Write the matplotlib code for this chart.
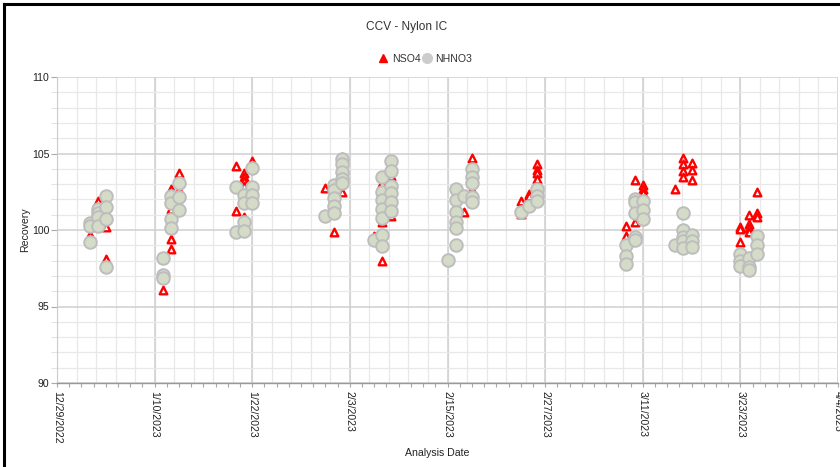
import matplotlib
matplotlib.use("Agg")
import matplotlib.pyplot as plt
import matplotlib.dates as mdates
from matplotlib.lines import Line2D
import datetime as dt

plt.rcParams['font.family'] = ['Liberation Sans', 'DejaVu Sans']

title = "CCV - Nylon IC"
series_names = ["NSO4", "NHNO3"]
x_label = "Analysis Date"
y_label = "Recovery"

nso4_dates = (["2023-01-02", "2023-01-03", "2023-01-04", "2023-01-04",
               "2023-01-11", "2023-01-12", "2023-01-12", "2023-01-12", "2023-01-12",
               "2023-01-13", "2023-01-13",
               "2023-01-20", "2023-01-20",
               "2023-01-21", "2023-01-21", "2023-01-21", "2023-01-21", "2023-01-21",
               "2023-01-22", "2023-01-22",
               "2023-01-31", "2023-02-01", "2023-02-02", "2023-02-02",
               "2023-02-06", "2023-02-07", "2023-02-07", "2023-02-07",
               "2023-02-08", "2023-02-08",
               "2023-02-15", "2023-02-16", "2023-02-17", "2023-02-18", "2023-02-18",
               "2023-02-24", "2023-02-24", "2023-02-25", "2023-02-25",
               "2023-02-26", "2023-02-26", "2023-02-26", "2023-02-26",
               "2023-03-09", "2023-03-09", "2023-03-10", "2023-03-10",
               "2023-03-11", "2023-03-11", "2023-03-11",
               "2023-03-15", "2023-03-16", "2023-03-16", "2023-03-16", "2023-03-16",
               "2023-03-17", "2023-03-17", "2023-03-17",
               "2023-03-23", "2023-03-23", "2023-03-23",
               "2023-03-24", "2023-03-24", "2023-03-24", "2023-03-24",
               "2023-03-25", "2023-03-25", "2023-03-25"])
nso4_values = [99.7, 101.9, 100.2, 98.1,
               96.05, 102.7, 101.4, 99.4, 98.75,
               103.7, 102.6,
               104.2, 101.25,
               103.75, 103.45, 103.2, 102.9, 100.85,
               104.5, 102.9,
               102.75, 99.85, 104.8, 102.5,
               99.6, 103.1, 100.5, 97.95,
               103.5, 100.9,
               98.1, 101.6, 101.15, 104.7, 102.6,
               101.9, 101.05, 102.35, 102.2,
               104.3, 103.95, 103.7, 103.35,
               100.25, 99.6, 103.25, 100.55,
               102.95, 102.65, 102.4,
               102.7, 104.7, 104.3, 103.85, 103.45,
               104.35, 103.95, 103.25,
               100.2, 100.05, 99.2,
               101.0, 100.4, 100.15, 99.85,
               102.5, 101.1, 100.85]

nhno3_dates = (["2023-01-02"] * 3 + ["2023-01-03"] * 4 + ["2023-01-04"] * 4 +
               ["2023-01-11"] * 3 + ["2023-01-12"] * 4 + ["2023-01-13"] * 3 +
               ["2023-01-20"] * 2 + ["2023-01-21"] * 4 + ["2023-01-22"] * 4 +
               ["2023-01-31"] * 1 + ["2023-02-01"] * 5 + ["2023-02-02"] * 5 +
               ["2023-02-06"] * 1 + ["2023-02-07"] * 7 + ["2023-02-08"] * 6 +
               ["2023-02-15"] * 1 + ["2023-02-16"] * 6 + ["2023-02-17"] * 1 +
               ["2023-02-18"] * 5 +
               ["2023-02-24"] * 1 + ["2023-02-25"] * 1 + ["2023-02-26"] * 3 +
               ["2023-03-09"] * 3 + ["2023-03-10"] * 5 + ["2023-03-11"] * 3 +
               ["2023-03-15"] * 1 + ["2023-03-16"] * 5 + ["2023-03-17"] * 3 +
               ["2023-03-23"] * 3 + ["2023-03-24"] * 3 + ["2023-03-25"] * 3)
nhno3_values = [100.45, 100.25, 99.2,
                101.4, 101.1, 100.85, 100.25,
                102.2, 101.5, 100.7, 97.55,
                98.15, 97.05, 96.85,
                102.2, 101.75, 100.7, 100.1,
                103.05, 102.15, 101.3,
                102.8, 99.85,
                102.3, 101.75, 100.5, 99.95,
                104.05, 102.8, 102.3, 101.75,
                100.9,
                102.95, 102.6, 102.1, 101.6, 101.1,
                104.65, 104.3, 103.8, 103.35, 103.05,
                99.35,
                103.45, 102.5, 101.95, 101.35, 100.8, 99.7, 98.95,
                104.5, 103.85, 102.9, 102.4, 101.8, 101.25,
                98.05,
                102.7, 101.95, 101.15, 100.55, 100.15, 99.0,
                102.2,
                104.0, 103.45, 103.05, 102.15, 101.8,
                101.2, 101.6, 102.65, 102.2, 101.9,
                99.0, 98.3, 97.8,
                102.05, 101.85, 101.1, 99.55, 99.35,
                101.9, 101.3, 100.75,
                99.05,
                101.1, 100.0, 99.55, 99.25, 98.85,
                99.65, 99.25, 98.9,
                98.4, 97.95, 97.65,
                98.2, 97.55, 97.4,
                99.6, 99.0, 98.45]

x_start = "2022-12-29"
x_end = "2023-04-04"
y_min, y_max = 90, 110


def to_num(s):
    return mdates.date2num(dt.datetime.strptime(s, "%Y-%m-%d"))


W, H = 840, 467
fig = plt.figure(figsize=(W / 100, H / 100), dpi=100)
L, R, T, B = 57, 838, 77, 383
ax = fig.add_axes([L / W, 1 - B / H, (R - L) / W, (B - T) / H])

x0, x1 = to_num(x_start), to_num(x_end)
ax.set_xlim(x0, x1)
ax.set_ylim(y_min, y_max)

# grids
major_x = [x0 + 12 * k for k in range(9)]
ax.set_xticks(major_x)
ax.set_xticklabels([f"{mdates.num2date(v).month}/{mdates.num2date(v).day}/{mdates.num2date(v).year}"
                    for v in major_x], rotation=270, fontsize=7.6, color='#222222')
minor_tick_x = [x0 + 1.5 * k for k in range(int(96 / 1.5) + 1)]
ax.set_xticks(minor_tick_x, minor=True)
ax.tick_params(axis='x', which='both', length=3, width=0.8, color='#aaaaaa', pad=3, direction='out')

minor_grid_x = [x0 + 2.4 * k for k in range(41)]
ax.vlines(minor_grid_x, y_min, y_max, colors='#e8e8e8', linewidth=0.9, zorder=0)
ax.vlines(major_x, y_min, y_max, colors='#cfcfcf', linewidth=1.1, zorder=0.5)

ax.set_yticks(range(90, 111, 5))
ax.set_yticks(range(90, 111, 1), minor=True)
ax.tick_params(axis='y', which='major', length=4, color='#aaaaaa', labelsize=7.6,
               labelcolor='#222222', pad=1.5)
ax.tick_params(axis='y', which='minor', length=4, color='#dddddd')
ax.set_yticklabels([str(v) for v in range(90, 111, 5)])
ax.grid(axis='y', which='minor', color='#e8e8e8', linewidth=0.9, zorder=0)
ax.grid(axis='y', which='major', color='#cfcfcf', linewidth=1.1, zorder=0.5)
ax.set_axisbelow(True)

for side in ['top', 'right']:
    ax.spines[side].set_visible(False)
ax.spines['left'].set_color('#cccccc')
ax.spines['bottom'].set_color('#999999')
ax.spines['bottom'].set_linewidth(1.0)

# data
ax.scatter([to_num(d) for d in nso4_dates], nso4_values, marker='^', s=30,
           facecolors='#ffffff', edgecolors='#ff0000', linewidths=1.7, zorder=3)
ax.scatter([to_num(d) for d in nhno3_dates], nhno3_values, marker='o', s=82,
           facecolors='#d4dcc8', edgecolors='#bdbdbd', linewidths=1.4, zorder=4)

ax.set_xlabel(x_label, fontsize=7.6, color='#222222')
ax.xaxis.set_label_coords((437 - L) / (R - L), -(453 - B) / (B - T))
ax.set_ylabel(y_label, fontsize=7.6, color='#222222')
ax.yaxis.set_label_coords(-(L - 25) / (R - L), 0.5)
ax.xaxis.label.set_va('center')
ax.yaxis.label.set_va('center')

fig.text(407 / W, 1 - 27 / H, title, ha='center', va='center', fontsize=8.6, color='#333333')

handles = [Line2D([], [], marker='^', linestyle='none', markersize=6.0,
                  markerfacecolor='#ff0000', markeredgecolor='#ff0000'),
           Line2D([], [], marker='o', linestyle='none', markersize=7.0,
                  markerfacecolor='#cccccc', markeredgecolor='#cccccc')]
fig.legend(handles, series_names, loc='center', bbox_to_anchor=(425 / W, 1 - 59 / H), ncol=2,
           frameon=False, fontsize=7.6, handletextpad=0.3, columnspacing=0.1,
           handlelength=1.0, labelcolor='#333333')

# outer frame (left and top edges)
fig.add_artist(Line2D([4 / W, 4 / W], [0, 1 - 4 / H], color='black', linewidth=2.2,
                      transform=fig.transFigure))
fig.add_artist(Line2D([4 / W, 1], [1 - 4 / H, 1 - 4 / H], color='black', linewidth=2.2,
                      transform=fig.transFigure))

fig.savefig("out.png", dpi=100)
